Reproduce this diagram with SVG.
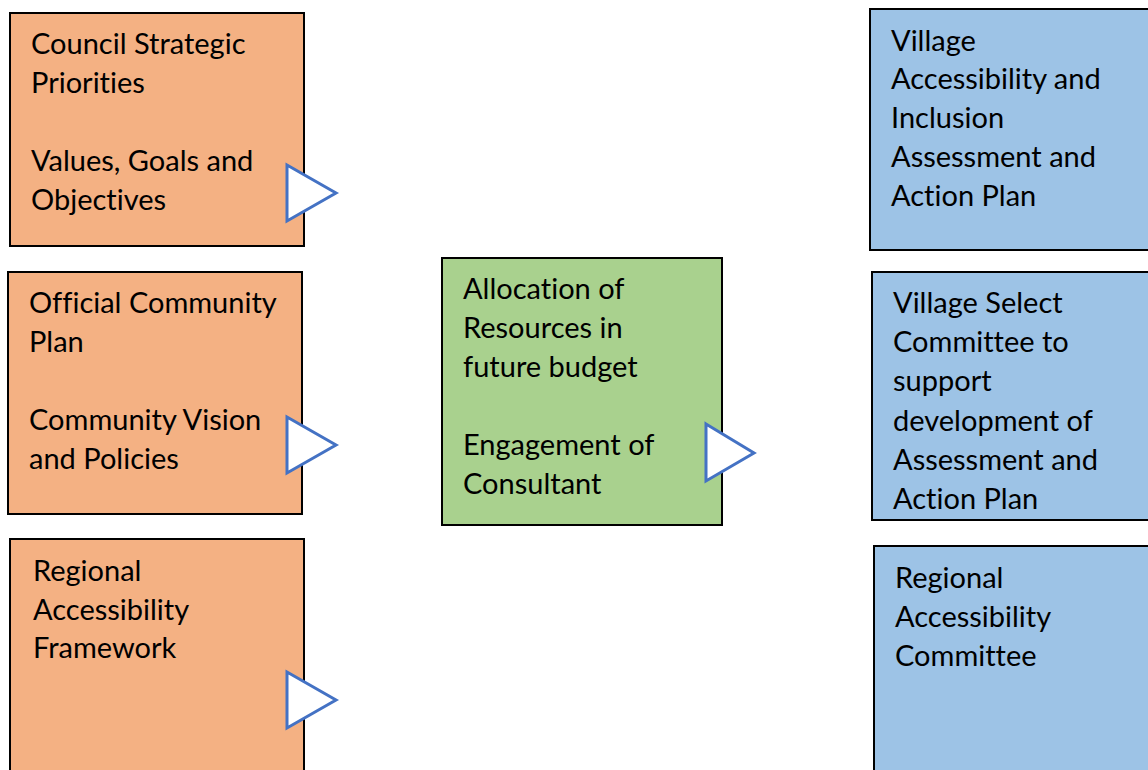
<svg xmlns="http://www.w3.org/2000/svg" width="1148" height="770" viewBox="0 0 1148 770">
<style>
.o{fill:#F4B183;stroke:#000;stroke-width:2}
.g{fill:#A9D18E;stroke:#000;stroke-width:2}
.b{fill:#9DC3E6;stroke:#000;stroke-width:2}
.t{font-family:Lato,"Open Sans",sans-serif;font-size:29px;fill:#000;font-variant-ligatures:none;font-feature-settings:"liga" 0,"dlig" 0}
.a{fill:#fff;stroke:#4472C4;stroke-width:3;stroke-linejoin:miter}
</style>
<rect width="1148" height="770" fill="#fff"/>
<g id="n1">
<rect class="o" x="10" y="13" width="294" height="233"/>
<text class="t"><tspan x="31" y="54">Council Strategic</tspan><tspan x="31" y="93">Priorities</tspan><tspan x="31" y="171">Values, Goals and</tspan><tspan x="31" y="210">Objectives</tspan></text>
</g>
<g id="n2">
<rect class="o" x="8" y="272" width="294" height="242"/>
<text class="t"><tspan x="29" y="313">Official Community</tspan><tspan x="29" y="352">Plan</tspan><tspan x="29" y="430">Community Vision</tspan><tspan x="29" y="469">and Policies</tspan></text>
</g>
<g id="n3">
<rect class="o" x="10" y="539" width="294" height="240"/>
<text class="t"><tspan x="33" y="581">Regional</tspan><tspan x="33" y="620">Accessibility</tspan><tspan x="33" y="658">Framework</tspan></text>
</g>
<g id="n4">
<rect class="g" x="442" y="258" width="280" height="267"/>
<text class="t"><tspan x="463" y="299">Allocation of</tspan><tspan x="463" y="338">Resources in</tspan><tspan x="463" y="377">future budget</tspan><tspan x="463" y="455">Engagement of</tspan><tspan x="463" y="494">Consultant</tspan></text>
</g>
<g id="n5">
<rect class="b" x="870" y="9" width="290" height="241"/>
<text class="t"><tspan x="891" y="51">Village</tspan><tspan x="891" y="89">Accessibility and</tspan><tspan x="891" y="128">Inclusion</tspan><tspan x="891" y="167">Assessment and</tspan><tspan x="891" y="206">Action Plan</tspan></text>
</g>
<g id="n6">
<rect class="b" x="872" y="272" width="290" height="248"/>
<text class="t"><tspan x="893" y="313">Village Select</tspan><tspan x="893" y="352">Committee to</tspan><tspan x="893" y="391">support</tspan><tspan x="893" y="431">development of</tspan><tspan x="893" y="470">Assessment and</tspan><tspan x="893" y="509">Action Plan</tspan></text>
</g>
<g id="n7">
<rect class="b" x="874" y="546" width="290" height="240"/>
<text class="t"><tspan x="895" y="588">Regional</tspan><tspan x="895" y="627">Accessibility</tspan><tspan x="895" y="666">Committee</tspan></text>
</g>
<g id="connectors">
<polygon class="a" points="287,165 336,193 287,221"/>
<polygon class="a" points="287,417 336,445 287,473"/>
<polygon class="a" points="287,672 336,700 287,728"/>
<polygon class="a" points="706,424 754,453 706,481"/>
</g>
</svg>
